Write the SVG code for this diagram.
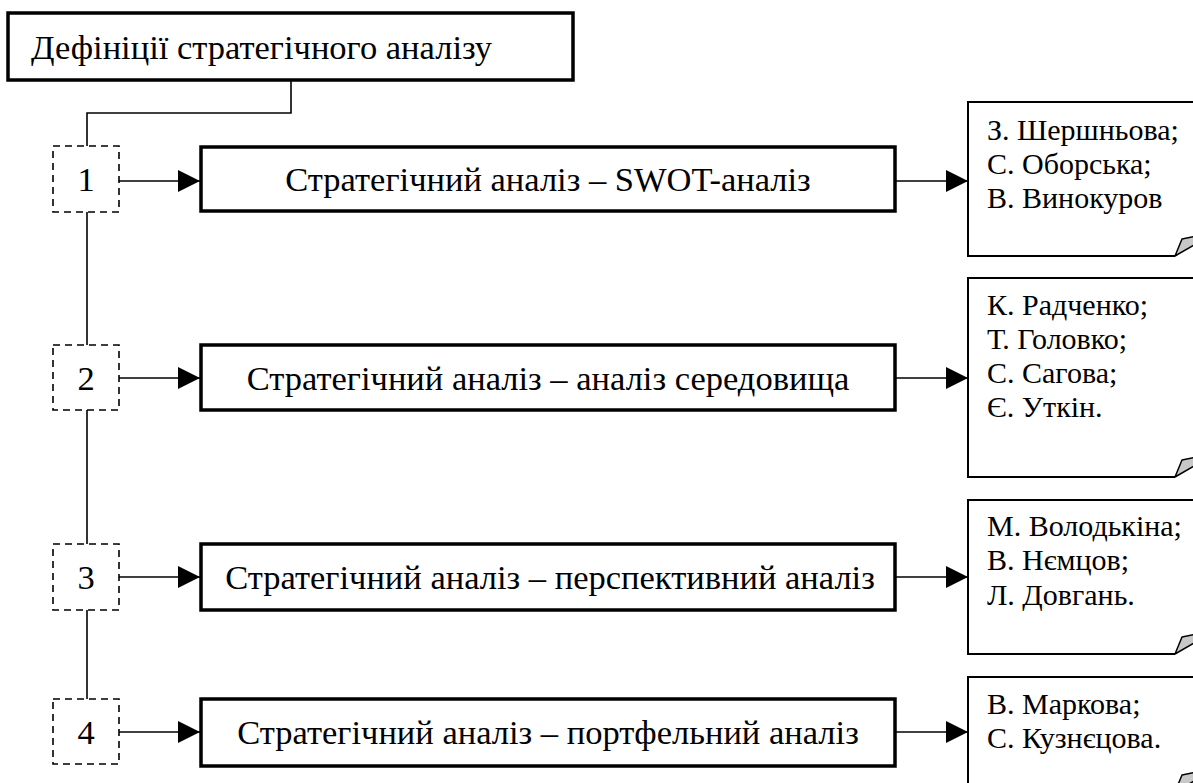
<svg xmlns="http://www.w3.org/2000/svg" width="1193" height="783" viewBox="0 0 1193 783">
<defs>
<style>
text{font-family:"Liberation Serif","Times New Roman",serif;font-size:34.5px;fill:#000}
text.nt{font-size:30px}
.main{fill:#fff;stroke:#000;stroke-width:3.5}
.dash{fill:#fff;stroke:#000;stroke-width:1.6;stroke-dasharray:7,5}
.note{fill:#fff;stroke:#000;stroke-width:2}
.curl{fill:#c8c8c8;stroke:#000;stroke-width:1.5;stroke-linejoin:round}
.ln{fill:none;stroke:#000;stroke-width:1.6}
.mid{text-anchor:middle}
</style>
<marker id="arr" viewBox="0 0 22 22" refX="22" refY="11" markerWidth="22" markerHeight="22" markerUnits="userSpaceOnUse" orient="auto">
<path d="M0,0 L22,11 L0,22 Z" fill="#000"/>
</marker>
</defs>
<rect width="1193" height="783" fill="#fff"/>
<g id="connectors">
<path class="ln" d="M291,80 V113 H87 V146"/>
<path class="ln" d="M87,212 V345"/>
<path class="ln" d="M87,410 V544"/>
<path class="ln" d="M87,610 V699"/>
<path class="ln" d="M119,181 H200" marker-end="url(#arr)"/>
<path class="ln" d="M119,378 H200" marker-end="url(#arr)"/>
<path class="ln" d="M119,577 H200" marker-end="url(#arr)"/>
<path class="ln" d="M119,732 H200" marker-end="url(#arr)"/>
<path class="ln" d="M895,181 H968" marker-end="url(#arr)"/>
<path class="ln" d="M895,378 H968" marker-end="url(#arr)"/>
<path class="ln" d="M895,577 H968" marker-end="url(#arr)"/>
<path class="ln" d="M895,732 H968" marker-end="url(#arr)"/>
</g>
<g id="title">
<rect class="main" x="8" y="13" width="565" height="67"/>
<text x="31" y="59">Дефініції стратегічного аналізу</text>
</g>
<g id="n1">
<rect class="dash" x="53" y="146" width="66" height="66"/>
<text class="mid" x="86" y="191">1</text>
</g>
<g id="n2">
<rect class="dash" x="53" y="345" width="66" height="65"/>
<text class="mid" x="86" y="390">2</text>
</g>
<g id="n3">
<rect class="dash" x="53" y="544" width="66" height="66"/>
<text class="mid" x="86" y="589">3</text>
</g>
<g id="n4">
<rect class="dash" x="53" y="699" width="66" height="65"/>
<text class="mid" x="86" y="744">4</text>
</g>
<g id="m1">
<rect class="main" x="201" y="147" width="694" height="64"/>
<text class="mid" x="548" y="191">Стратегічний аналіз – SWOT-аналіз</text>
</g>
<g id="m2">
<rect class="main" x="201" y="345" width="694" height="65"/>
<text class="mid" x="548" y="390">Стратегічний аналіз – аналіз середовища</text>
</g>
<g id="m3">
<rect class="main" x="201" y="544" width="694" height="66"/>
<text class="mid" x="550" y="589">Стратегічний аналіз – перспективний аналіз</text>
</g>
<g id="m4">
<rect class="main" x="201" y="699" width="694" height="67"/>
<text class="mid" x="548" y="744">Стратегічний аналіз – портфельний аналіз</text>
</g>
<g id="note1">
<path class="note" d="M1200,102 H968 V256 H1175"/>
<path class="curl" d="M1175,256 L1182,239 L1196,236 L1196,244 Z"/>
<text class="nt" x="987" y="140">З. Шершньова;</text>
<text class="nt" x="987" y="174">С. Оборська;</text>
<text class="nt" x="987" y="208">В. Винокуров</text>
</g>
<g id="note2">
<path class="note" d="M1200,278 H968 V477 H1175"/>
<path class="curl" d="M1175,477 L1182,460 L1196,457 L1196,465 Z"/>
<text class="nt" x="987" y="315">К. Радченко;</text>
<text class="nt" x="987" y="349">Т. Головко;</text>
<text class="nt" x="987" y="383">С. Сагова;</text>
<text class="nt" x="987" y="417">Є. Уткін.</text>
</g>
<g id="note3">
<path class="note" d="M1200,500 H968 V654 H1175"/>
<path class="curl" d="M1175,654 L1182,637 L1196,634 L1196,642 Z"/>
<text class="nt" x="987" y="536">М. Володькіна;</text>
<text class="nt" x="987" y="570">В. Нємцов;</text>
<text class="nt" x="987" y="605">Л. Довгань.</text>
</g>
<g id="note4">
<path class="note" d="M1200,677 H968 V792 H1175"/>
<path class="curl" d="M1175,792 L1182,775 L1196,772 L1196,780 Z"/>
<text class="nt" x="987" y="714">В. Маркова;</text>
<text class="nt" x="987" y="748">С. Кузнєцова.</text>
</g>
</svg>
